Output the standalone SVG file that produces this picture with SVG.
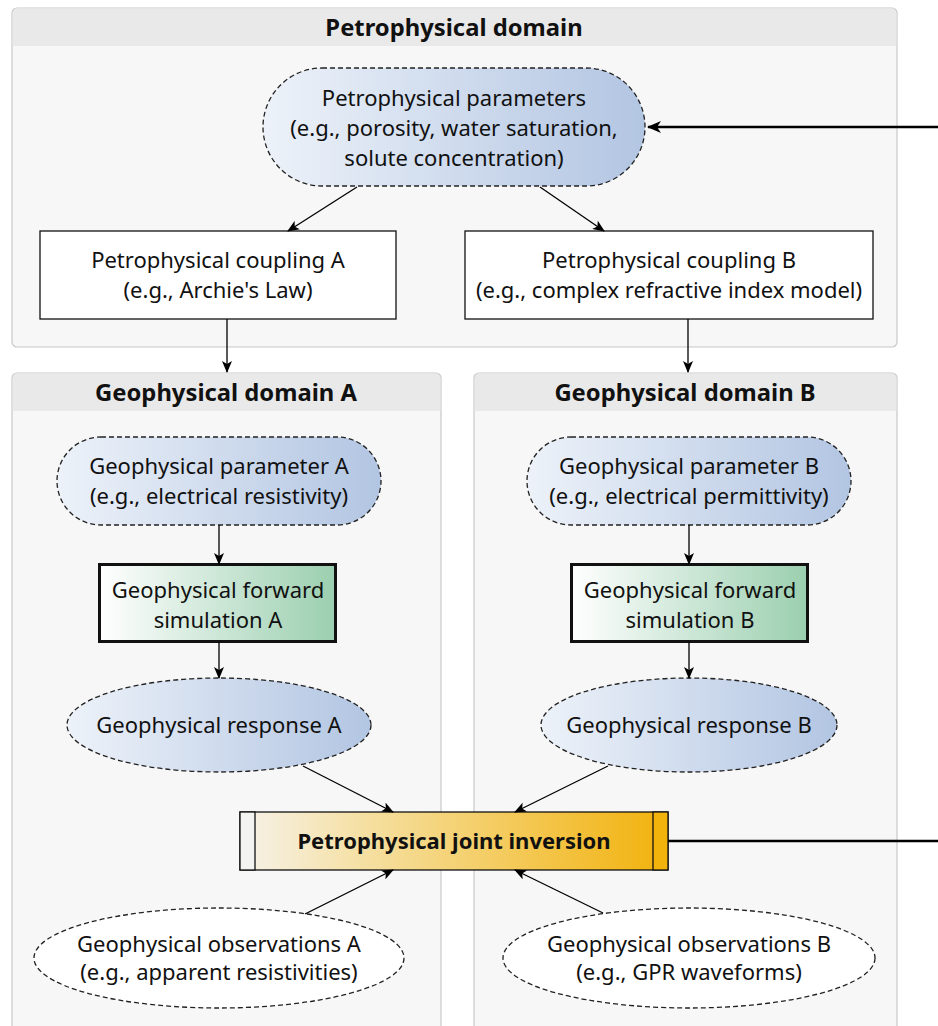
<svg xmlns="http://www.w3.org/2000/svg" width="938" height="1026" viewBox="0 0 938 1026">
<defs>
<linearGradient id="blue" x1="0" y1="0" x2="1" y2="0"><stop offset="0" stop-color="#edf2f9"/><stop offset="1" stop-color="#b2c5e2"/></linearGradient>
<linearGradient id="green" x1="0" y1="0" x2="1" y2="0"><stop offset="0" stop-color="#ffffff"/><stop offset="1" stop-color="#9bcfaf"/></linearGradient>
<linearGradient id="gold" x1="0" y1="0" x2="1" y2="0"><stop offset="0" stop-color="#f6f2ea"/><stop offset="0.3" stop-color="#f5dfa0"/><stop offset="1" stop-color="#f2b20c"/></linearGradient>
<marker id="ah" viewBox="0 0 12 10" refX="11" refY="5" markerWidth="12" markerHeight="10" markerUnits="userSpaceOnUse" orient="auto"><path d="M0,0 L12,5 L0,10 L3,5 z" fill="#000"/></marker>
<marker id="ahb" viewBox="0 0 14 12" refX="13" refY="6" markerWidth="14" markerHeight="12" markerUnits="userSpaceOnUse" orient="auto"><path d="M0,0 L14,6 L0,12 L4,6 z" fill="#000"/></marker>
</defs>
<style>
text{font-family:"Noto Sans","Open Sans","DejaVu Sans",sans-serif;font-size:22px;fill:#111;text-anchor:middle}
.h{font-weight:bold;font-size:23.8px}
.j{font-weight:bold;font-size:22px}
.cl{fill:#f7f7f7;stroke:#c8c8c8;stroke-width:1.2}
.hd{fill:#e9e9e9}
.dash{stroke:#222;stroke-width:1.3;stroke-dasharray:5,3}
.box{fill:#fff;stroke:#111;stroke-width:1.3}
.fw{fill:url(#green);stroke:#111;stroke-width:3}
.e{stroke:#000;stroke-width:1.3;fill:none;marker-end:url(#ah)}
.eb{stroke:#000;stroke-width:2.6;fill:none}
</style>
<g id="cluster-petro">
<rect class="cl" x="12" y="8" width="885" height="339" rx="5"/>
<path class="hd" d="M12.6,13 a4.4,4.4 0 0 1 4.4,-4.4 H892 a4.4,4.4 0 0 1 4.4,4.4 V46 H12.6 z"/>
<text class="h" x="454" y="36">Petrophysical domain</text>
</g>
<g id="cluster-geoA">
<rect class="cl" x="12" y="373" width="429" height="660" rx="5"/>
<path class="hd" d="M12.6,378 a4.4,4.4 0 0 1 4.4,-4.4 H436 a4.4,4.4 0 0 1 4.4,4.4 V411 H12.6 z"/>
<text class="h" x="226" y="401">Geophysical domain A</text>
</g>
<g id="cluster-geoB">
<rect class="cl" x="474" y="373" width="423" height="660" rx="5"/>
<path class="hd" d="M474.6,378 a4.4,4.4 0 0 1 4.4,-4.4 H892 a4.4,4.4 0 0 1 4.4,4.4 V411 H474.6 z"/>
<text class="h" x="685" y="401">Geophysical domain B</text>
</g>
<g id="petro-params">
<rect class="dash" x="263" y="68" width="382" height="118" rx="59" fill="url(#blue)"/>
<text x="454" y="106">Petrophysical parameters</text>
<text x="454" y="136">(e.g., porosity, water saturation,</text>
<text x="454" y="166">solute concentration)</text>
</g>
<g id="coupling-A">
<rect class="box" x="40" y="231" width="356" height="88"/>
<text x="218" y="268">Petrophysical coupling A</text>
<text x="218" y="298">(e.g., Archie's Law)</text>
</g>
<g id="coupling-B">
<rect class="box" x="465" y="231" width="408" height="88"/>
<text x="669" y="268">Petrophysical coupling B</text>
<text x="669" y="298">(e.g., complex refractive index model)</text>
</g>
<g id="geo-param-A">
<rect class="dash" x="57" y="437" width="324" height="88" rx="44" fill="url(#blue)"/>
<text x="219" y="474">Geophysical parameter A</text>
<text x="219" y="504">(e.g., electrical resistivity)</text>
</g>
<g id="geo-param-B">
<rect class="dash" x="527" y="437" width="324" height="88" rx="44" fill="url(#blue)"/>
<text x="689" y="474">Geophysical parameter B</text>
<text x="689" y="504">(e.g., electrical permittivity)</text>
</g>
<g id="forward-A">
<rect class="fw" x="99.5" y="564.5" width="236" height="77"/>
<text x="218" y="598">Geophysical forward</text>
<text x="218" y="628">simulation A</text>
</g>
<g id="forward-B">
<rect class="fw" x="571.5" y="564.5" width="236" height="77"/>
<text x="690" y="598">Geophysical forward</text>
<text x="690" y="628">simulation B</text>
</g>
<g id="response-A">
<ellipse class="dash" cx="219" cy="725" rx="152" ry="47" fill="url(#blue)"/>
<text x="219" y="733">Geophysical response A</text>
</g>
<g id="response-B">
<ellipse class="dash" cx="689" cy="725" rx="148" ry="47" fill="url(#blue)"/>
<text x="689" y="733">Geophysical response B</text>
</g>
<g id="joint-inversion">
<rect x="240" y="812" width="428" height="58" fill="url(#gold)" stroke="#111" stroke-width="1.3"/>
<rect x="240" y="812" width="15" height="58" fill="#f3f3f1" stroke="#111" stroke-width="1.3"/>
<rect x="653" y="812" width="15" height="58" fill="#f2b40c" stroke="#111" stroke-width="1.3"/>
<text class="j" x="454" y="849">Petrophysical joint inversion</text>
</g>
<g id="obs-A">
<ellipse class="dash" cx="219" cy="958" rx="185" ry="50" fill="#fff"/>
<text x="219" y="952">Geophysical observations A</text>
<text x="219" y="980">(e.g., apparent resistivities)</text>
</g>
<g id="obs-B">
<ellipse class="dash" cx="689" cy="958" rx="186" ry="50" fill="#fff"/>
<text x="689" y="952">Geophysical observations B</text>
<text x="689" y="980">(e.g., GPR waveforms)</text>
</g>
<g id="connectors">
<line class="e" x1="357" y1="187" x2="288" y2="231"/>
<line class="e" x1="540" y1="187" x2="604" y2="231"/>
<line class="e" x1="227" y1="319" x2="227" y2="372"/>
<line class="e" x1="688" y1="319" x2="688" y2="372"/>
<line class="e" x1="219" y1="525" x2="219" y2="564"/>
<line class="e" x1="689" y1="525" x2="689" y2="564"/>
<line class="e" x1="219" y1="642" x2="219" y2="678"/>
<line class="e" x1="689" y1="642" x2="689" y2="678"/>
<line class="e" x1="303" y1="766" x2="393" y2="812"/>
<line class="e" x1="608" y1="766" x2="515" y2="812"/>
<line class="e" x1="305" y1="914" x2="393" y2="870"/>
<line class="e" x1="603" y1="913" x2="515" y2="870"/>
<line class="eb" x1="668" y1="841" x2="938" y2="841"/>
<line class="eb" x1="938" y1="127" x2="648" y2="127" marker-end="url(#ahb)"/>
</g>
</svg>
